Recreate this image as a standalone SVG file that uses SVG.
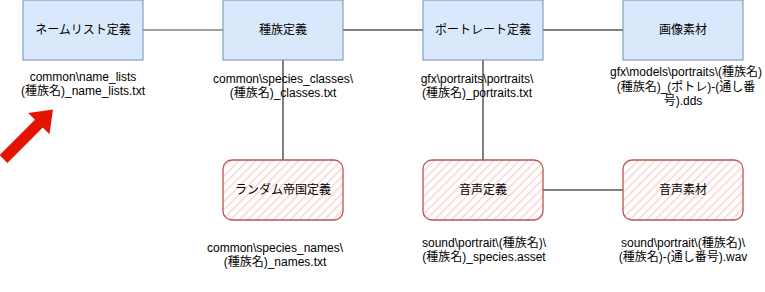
<svg xmlns="http://www.w3.org/2000/svg" width="765" height="292" viewBox="0 0 765 292">
<defs>
<pattern id="hatch" patternUnits="userSpaceOnUse" width="6" height="6" patternTransform="rotate(45)">
<rect width="6" height="6" fill="#ffffff"/>
<line x1="0" y1="0" x2="0" y2="6" stroke="#f8cecc" stroke-width="2.5"/>
</pattern>
</defs>
<style>
.blue{fill:#dae8fc;stroke:#6c8ebf;stroke-width:1}
.red{fill:url(#hatch);stroke:#b85450;stroke-width:1.3}
.t{font-family:"Liberation Sans","Noto Sans CJK JP",sans-serif;font-size:12px;fill:#000;text-anchor:middle}
.c{stroke:#000;stroke-width:1;fill:none}
</style>
<rect width="765" height="292" fill="#ffffff"/>
<g id="connectors">
<line class="c" x1="143" y1="30" x2="223" y2="30" style="stroke:#808080;stroke-width:1.6"/>
<line class="c" x1="343" y1="30" x2="423" y2="30"/>
<line class="c" x1="543" y1="30" x2="623" y2="30"/>
<line class="c" x1="283" y1="60" x2="283" y2="160"/>
<line class="c" x1="483" y1="60" x2="483" y2="160"/>
<line class="c" x1="543" y1="190" x2="623" y2="190"/>
</g>
<g id="node-namelist">
<rect class="blue" x="23" y="0" width="120" height="60"/>
<text class="t" x="83" y="34">ネームリスト定義</text>
</g>
<g id="node-species">
<rect class="blue" x="223" y="0" width="120" height="60"/>
<text class="t" x="283" y="34">種族定義</text>
</g>
<g id="node-portrait">
<rect class="blue" x="423" y="0" width="120" height="60"/>
<text class="t" x="483" y="34">ポートレート定義</text>
</g>
<g id="node-image">
<rect class="blue" x="623" y="0" width="120" height="60"/>
<text class="t" x="683" y="34">画像素材</text>
</g>
<g id="node-random">
<rect class="red" x="223" y="160" width="120" height="60" rx="9"/>
<text class="t" x="283" y="194">ランダム帝国定義</text>
</g>
<g id="node-voice-def">
<rect class="red" x="423" y="160" width="120" height="60" rx="9"/>
<text class="t" x="483" y="194">音声定義</text>
</g>
<g id="node-voice">
<rect class="red" x="623" y="160" width="120" height="60" rx="9"/>
<text class="t" x="683" y="194">音声素材</text>
</g>
<g id="labels">
<text class="t" x="83" y="81">common\name_lists</text>
<text class="t" x="83" y="95">(種族名)_name_lists.txt</text>
<text class="t" x="283" y="83">common\species_classes\</text>
<text class="t" x="283" y="97">(種族名)_classes.txt</text>
<text class="t" x="477" y="83">gfx\portraits\portraits\</text>
<text class="t" x="477" y="97">(種族名)_portraits.txt</text>
<text class="t" x="686" y="76">gfx\models\portraits\(種族名)</text>
<text class="t" x="686" y="90.5">(種族名)_(ポトレ)-(通し番</text>
<text class="t" x="683" y="105">号).dds</text>
<text class="t" x="275" y="252">common\species_names\</text>
<text class="t" x="275" y="266">(種族名)_names.txt</text>
<text class="t" x="484" y="247">sound\portrait\(種族名)\</text>
<text class="t" x="484" y="261">(種族名)_species.asset</text>
<text class="t" x="683" y="247">sound\portrait\(種族名)\</text>
<text class="t" x="683" y="261">(種族名)-(通し番号).wav</text>
</g>
<g id="red-arrow">
<polygon transform="translate(3.5,159) rotate(-45)" points="0,-5.5 50,-5.5 50,-15 70,0 50,15 50,5.5 0,5.5" fill="#e51400"/>
</g>
</svg>
